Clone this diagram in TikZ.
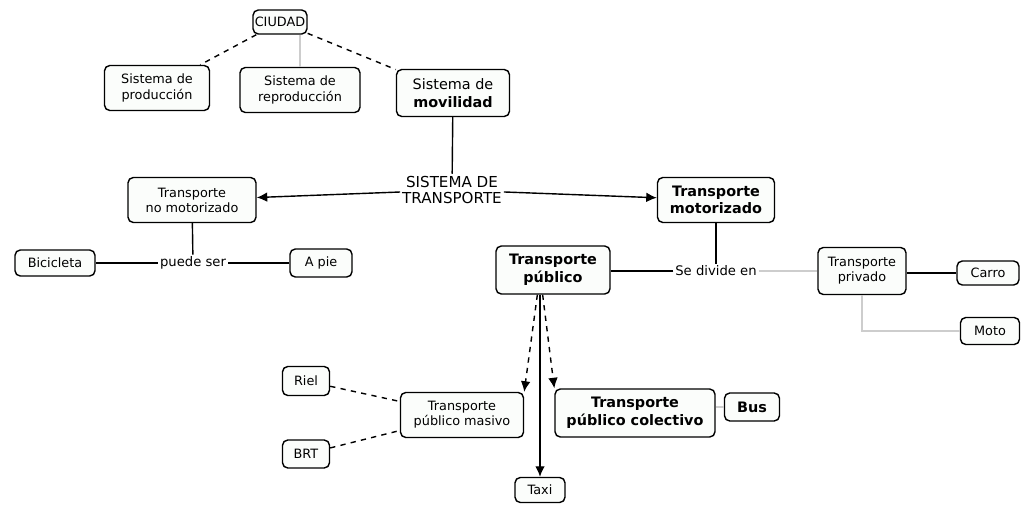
\documentclass[tikz,border=0pt]{standalone}
\usepackage{fontspec}
\setmainfont{DejaVu Sans}
\usepackage{tikz}
\usetikzlibrary{arrows,arrows.meta,shapes,positioning}
\usepackage{xcolor}
\definecolor{cmgrey}{RGB}{205,205,205}
\definecolor{cmfill}{RGB}{251,253,251}
\tikzstyle{conceptbox} = [rectangle, rounded corners=3pt, draw=black, fill=cmfill, line width=0.8pt, text centered, align=center, inner sep=1pt, font=\fontsize{7.3}{8.6}\selectfont]
\tikzstyle{boldbox} = [conceptbox, font=\fontsize{8.2}{10}\selectfont\bfseries]
\tikzstyle{linkword} = [align=center, fill=white, inner sep=1pt, font=\fontsize{7.5}{9}\selectfont]
\tikzstyle{link} = [line width=0.8pt]
\tikzstyle{greylink} = [line width=0.8pt, color=cmgrey]
\tikzstyle{dashlink} = [line width=0.8pt, dashed]
\tikzstyle{arrow} = [line width=0.8pt,-{Latex[length=6pt,width=5.5pt]}]

\begin{document}
\begin{tikzpicture}[x=0.02cm, y=-0.02cm]
\useasboundingbox (0,0) rectangle (1021,504);
% City level
\node[conceptbox, minimum width=1.0cm, minimum height=0.48cm] (ciudad) at (280,22) {CIUDAD};
\node[conceptbox, minimum width=2.1cm, minimum height=0.9cm] (produccion) at (157,88) {Sistema de\\producción};
\node[conceptbox, minimum width=2.4cm, minimum height=0.9cm] (reproduccion) at (300,90) {Sistema de\\reproducción};
\node[boldbox, font=\fontsize{8.2}{10}\selectfont, minimum width=2.26cm, minimum height=0.94cm] (movilidad) at (453,93) {Sistema de\\\textbf{movilidad}};

% Transport system
\node[linkword, font=\fontsize{8.6}{9.6}\selectfont] (transporte) at (452,190) {SISTEMA DE\\TRANSPORTE};
\node[conceptbox, minimum width=2.56cm, minimum height=0.9cm] (nomotor) at (192,200) {Transporte\\no motorizado};
\node[boldbox, minimum width=2.34cm, minimum height=0.9cm] (motor) at (716,200) {Transporte\\motorizado};

% Non motorized
\node[linkword] (puedeser) at (193,263) {puede ser};
\node[conceptbox, minimum width=1.6cm, minimum height=0.52cm] (bicicleta) at (55,263) {Bicicleta};
\node[conceptbox, minimum width=1.24cm, minimum height=0.56cm] (apie) at (321,263) {A pie};

% Motorized
\node[linkword] (sedivide) at (716,271) {Se divide en};
\node[boldbox, minimum width=2.28cm, minimum height=0.96cm] (publico) at (553,270) {Transporte\\público};
\node[conceptbox, minimum width=1.76cm, minimum height=0.94cm] (privado) at (862,271) {Transporte\\privado};
\node[conceptbox, minimum width=1.24cm, minimum height=0.48cm] (carro) at (988,273) {Carro};
\node[conceptbox, minimum width=1.18cm, minimum height=0.54cm] (moto) at (990,331) {Moto};

% Public transport
\node[conceptbox, minimum width=2.46cm, minimum height=0.9cm] (masivo) at (462,415) {Transporte\\público masivo};
\node[boldbox, minimum width=3.2cm, minimum height=0.96cm] (colectivo) at (635,413) {Transporte\\público colectivo};
\node[boldbox, minimum width=1.1cm, minimum height=0.56cm] (bus) at (752,407) {Bus};
\node[conceptbox, minimum width=1.0cm, minimum height=0.5cm] (taxi) at (540,490) {Taxi};
\node[conceptbox, minimum width=0.94cm, minimum height=0.58cm] (riel) at (306,381) {Riel};
\node[conceptbox, minimum width=0.94cm, minimum height=0.56cm] (brt) at (306,454) {BRT};
\coordinate (pubfoot) at (taxi.north |- publico.south);

% Connectors
\draw[dashlink] (ciudad) -- (produccion);
\draw[greylink] (reproduccion.north) -- (reproduccion.north |- ciudad.south);
\draw[dashlink] (ciudad) -- (movilidad);
\draw[link] (movilidad) -- (transporte);
\draw[arrow] (transporte) -- (nomotor);
\draw[arrow] (transporte) -- (motor);
\draw[link] (nomotor) -- (puedeser);
\draw[link] (puedeser) -- (bicicleta);
\draw[link] (puedeser) -- (apie);
\draw[link] (motor) -- (sedivide);
\draw[link] (sedivide) -- (publico.east |- sedivide);
\draw[greylink] (sedivide) -- (privado.west |- sedivide);
\draw[link] (privado.east |- carro) -- (carro);
\draw[greylink] (privado.south) |- (moto.west);
\draw[arrow, dashed] ([xshift=-1.5pt]pubfoot) -- (masivo.north east);
\draw[arrow, dashed] ([xshift=1.5pt]pubfoot) -- (colectivo.north west);
\draw[arrow] (pubfoot) -- (taxi);
\draw[dashlink] (riel) -- (masivo);
\draw[dashlink] (brt) -- (masivo);
\draw[greylink] (bus.west) -- (bus.west -| colectivo.east);
\end{tikzpicture}
\end{document}
